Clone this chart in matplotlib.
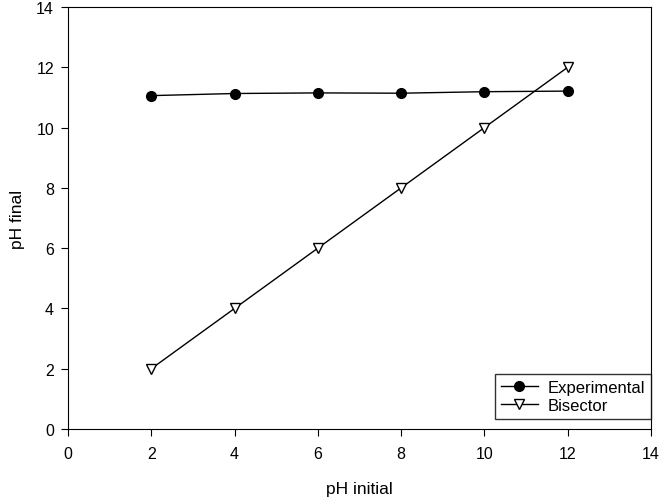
import numpy as np
import matplotlib.pyplot as plt

plt.rcParams['font.family'] = ['Liberation Sans', 'DejaVu Sans']

# data
ph_initial = [2, 4, 6, 8, 10, 12]
ph_final_exp = [11.06, 11.13, 11.15, 11.14, 11.19, 11.21]
ph_final_err = [0.10, 0.06, 0.06, 0.05, 0.05, 0.07]
bisector = [2, 4, 6, 8, 10, 12]

W, H = 661, 502
fig = plt.figure(figsize=(W/100, H/100), dpi=100)
ax = fig.add_axes([68/W, 1 - 430/H, (651-68)/W, (430-8)/H])

ax.errorbar(ph_initial, ph_final_exp, yerr=ph_final_err, fmt='none',
            ecolor='black', capsize=3, elinewidth=1)
exp_line, = ax.plot(ph_initial, ph_final_exp, color='black', lw=1, marker='o',
                    markersize=7, label='Experimental')
bis_line, = ax.plot(ph_initial, bisector, color='black', lw=1, marker='v', markersize=7,
                    markerfacecolor='white', markeredgecolor='black', label='Bisector')

ax.set_xlim(0, 14)
ax.set_ylim(0, 14)
ax.set_xticks(np.arange(0, 15, 2))
ax.set_yticks(np.arange(0, 15, 2))
ax.tick_params(direction='out', length=5, labelsize=11.5)
ax.tick_params(axis='x', pad=7)
ax.tick_params(axis='y', pad=5)
ax.set_xlabel('pH initial', fontsize=12.5, labelpad=15)
ax.set_ylabel('pH final', fontsize=12.5, labelpad=8)

leg = ax.legend([exp_line, bis_line], ['Experimental', 'Bisector'],
                loc='lower right', bbox_to_anchor=(1.0, 10/422),
                fontsize=12, frameon=True, fancybox=False, edgecolor='black',
                borderaxespad=0, borderpad=0.35, labelspacing=0.2,
                handlelength=2.2, handletextpad=0.6)
leg.get_frame().set_linewidth(1)

fig.savefig('out.png', dpi=100)
